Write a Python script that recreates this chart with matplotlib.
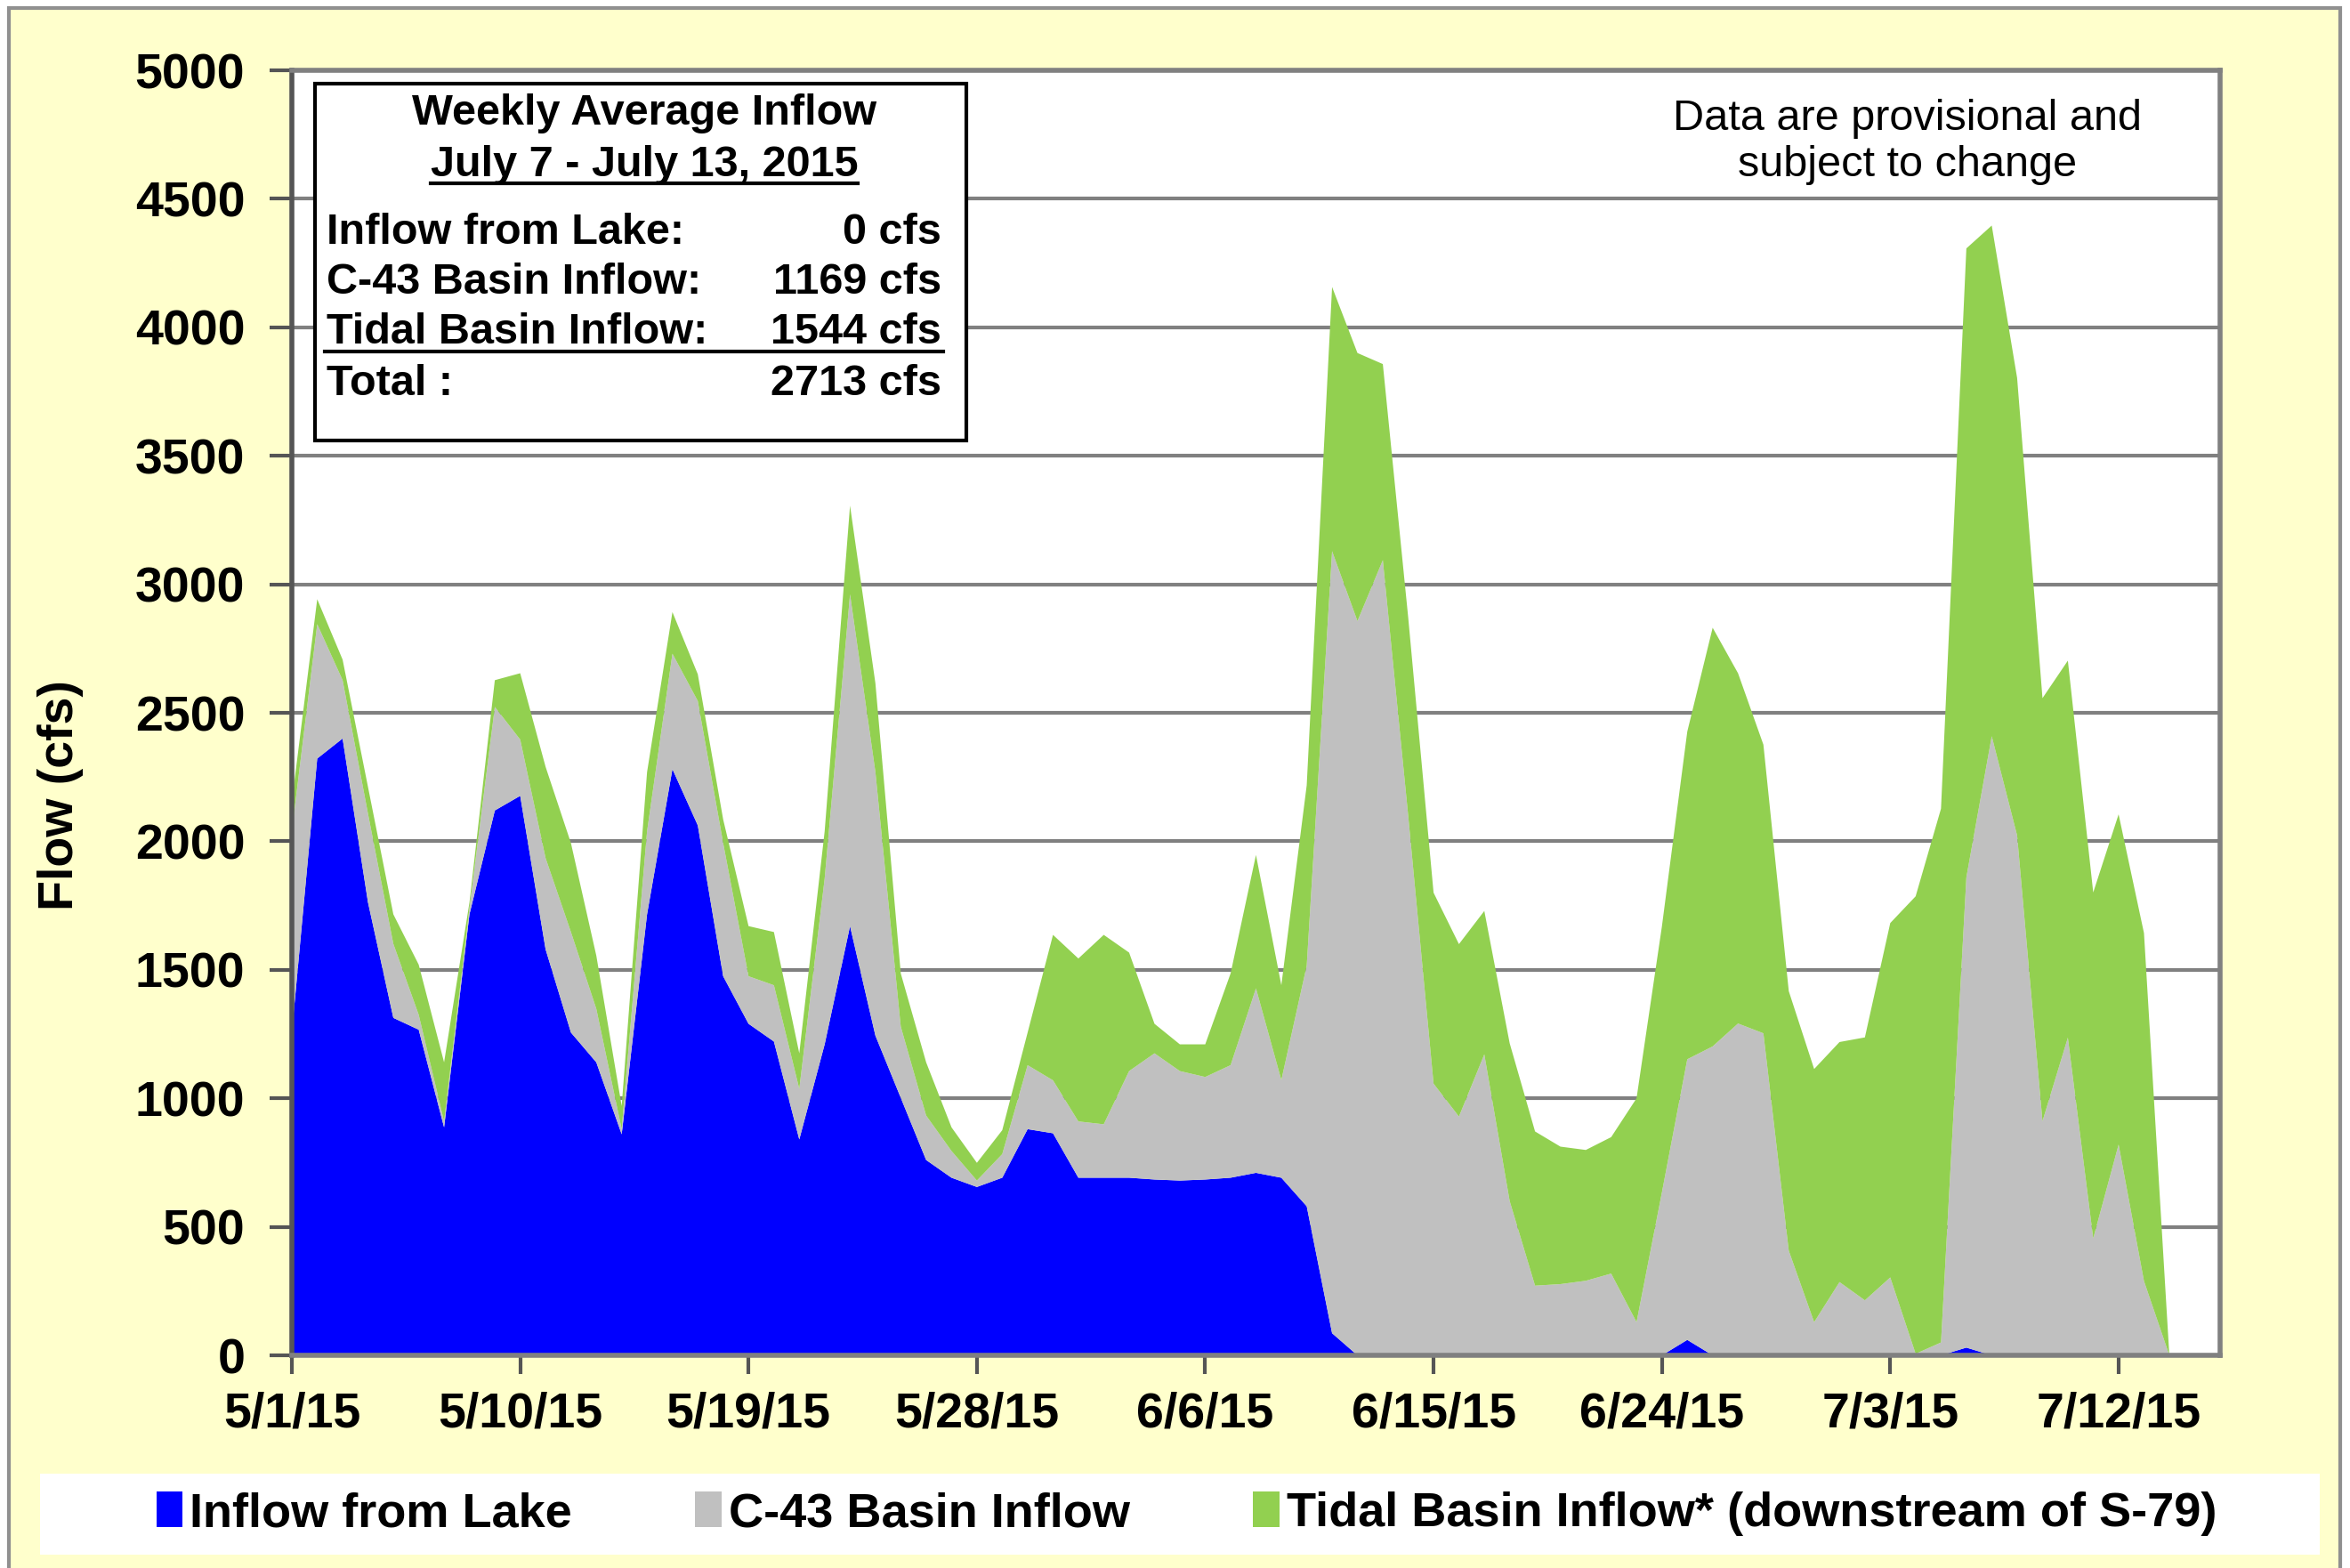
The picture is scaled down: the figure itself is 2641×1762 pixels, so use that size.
import matplotlib
matplotlib.use("Agg")
import matplotlib.pyplot as plt
import matplotlib.dates as mdates
from matplotlib.patches import Rectangle, Patch
from matplotlib.lines import Line2D
import pandas as pd

plt.rcParams['font.family'] = ['Liberation Sans', 'DejaVu Sans']

# ---- data (daily flow, cfs) ----
start_date = "2015-05-01"
lake = [1256, 2322, 2400, 1763, 1313, 1267, 887, 1716, 2120, 2177,
        1580, 1256, 1140, 860, 1716, 2281, 2062, 1475, 1290, 1221,
        840, 1210, 1670, 1244, 1002, 760, 691, 655, 691, 880,
        864, 691, 691, 691, 684, 680, 684, 691, 710, 691,
        580, 86, 0, 0, 0, 0, 0, 0, 0, 0,
        0, 0, 0, 0, 0, 60, 0, 0, 0, 0,
        0, 0, 0, 0, 0, 0, 30, 0, 0, 0,
        0, 0, 0, 0, 0, 0, 0]
c43 = [783, 523, 227, 345, 288, 58, 23, 24, 403, 219,
       355, 391, 208, 20, 323, 449, 484, 518, 185, 219,
       197, 645, 1291, 1026, 277, 173, 104, 25, 92, 249,
       206, 219, 208, 415, 491, 426, 399, 438, 718, 380,
       936, 3043, 2857, 3094, 2100, 1057, 929, 1171, 600, 271,
       277, 290, 318, 129, 634, 1092, 1202, 1291, 1253, 407,
       129, 285, 214, 303, 6, 50, 1830, 2409, 2023, 911,
       1236, 455, 820, 289, 0, 0, 0]
tidal = [115, 97, 80, 104, 115, 195, 230, 22, 104, 258,
         355, 346, 207, 90, 230, 162, 104, 92, 195, 207,
         138, 184, 345, 345, 207, 207, 92, 69, 93, 127,
         566, 634, 737, 461, 115, 104, 127, 357, 519, 369,
         702, 1028, 1043, 763, 771, 743, 671, 558, 614, 600,
         535, 509, 531, 871, 1035, 1275, 1629, 1363, 1123, 1010,
         985, 934, 1023, 1379, 1780, 2077, 2447, 1987, 1780, 1646,
         1467, 1346, 1285, 1354, 0, 0, 0]

series_names = ["Inflow from Lake", "C-43 Basin Inflow",
                "Tidal Basin Inflow* (downstream of S-79)"]
tick_dates = ["2015-05-01", "2015-05-10", "2015-05-19", "2015-05-28", "2015-06-06",
              "2015-06-15", "2015-06-24", "2015-07-03", "2015-07-12"]
tick_labels = ["5/1/15", "5/10/15", "5/19/15", "5/28/15", "6/6/15",
               "6/15/15", "6/24/15", "7/3/15", "7/12/15"]
y_ticks = list(range(0, 5001, 500))

box_title = "Weekly Average Inflow"
box_period = "July 7 - July 13, 2015"
box_rows = [("Inflow from Lake:", "0 cfs"),
            ("C-43 Basin Inflow:", "1169 cfs"),
            ("Tidal Basin Inflow:", "1544 cfs"),
            ("Total :", "2713 cfs")]
note_text = "Data are provisional and\nsubject to change"

colors = ["#0000FF", "#C0C0C0", "#92D050"]
grid_gray = "#808080"

dates = pd.date_range(start_date, periods=len(lake), freq="D")

W, H = 2641, 1762
fig = plt.figure(figsize=(W / 100, H / 100), dpi=100, facecolor="white")

# yellow chart area with gray frame
fig.patches.append(Rectangle((10 / W, -0.01), (2630 - 10) / W, 1 - 9 / H + 0.01,
                             transform=fig.transFigure, facecolor="#FFFFCC",
                             edgecolor="#909090", linewidth=3, zorder=-10))

L, R, T, B = 328, 2495, 79, 1523
ax = fig.add_axes([L / W, 1 - B / H, (R - L) / W, (B - T) / H])
ax.set_zorder(2)
ax.set_facecolor("white")

ax.stackplot(dates, lake, c43, tidal, colors=colors, linewidth=0, zorder=2)

ax.set_xlim(dates[0], dates[-1])
ax.set_ylim(0, 5000)
ax.set_yticks(y_ticks)
ax.set_yticklabels([str(v) for v in y_ticks])
ax.set_xticks(pd.to_datetime(tick_dates))
ax.set_xticklabels(tick_labels)
ax.yaxis.grid(True, color=grid_gray, linewidth=3, zorder=1)
ax.set_axisbelow(True)
for s in ax.spines.values():
    s.set_color(grid_gray)
    s.set_linewidth(4)
ax.spines["left"].set_color("#555555")
ax.tick_params(axis="both", colors="#555555", width=3, labelcolor="black",
               labelsize=40)
ax.tick_params(axis="y", length=18, pad=20)
ax.tick_params(axis="x", length=15, pad=14)
for lab in ax.get_xticklabels() + ax.get_yticklabels():
    lab.set_fontweight("bold")

ax.set_ylabel("Flow (cfs)", fontsize=40, fontweight="bold")
ax.yaxis.set_label_coords(-0.108, 0.436)


def axx(X):
    return (X - L) / (R - L)


def axy(Y):
    return (B - Y) / (B - T)


# info box
ax.add_patch(Rectangle((axx(354), axy(495)), axx(1086) - axx(354), axy(94) - axy(495),
                       transform=ax.transAxes, facecolor="white", edgecolor="black",
                       linewidth=3, zorder=5))
fs_box = 35
ax.text(axx(724), axy(128), box_title, transform=ax.transAxes, ha="center", va="center",
        fontsize=fs_box, fontweight="bold", zorder=6)
t_period = ax.text(axx(724), axy(186), box_period, transform=ax.transAxes, ha="center",
                   va="center", fontsize=fs_box, fontweight="bold", zorder=6)
row_y = [261, 317, 374, 431]
for (lbl, val), yy in zip(box_rows, row_y):
    ax.text(axx(367), axy(yy), lbl, transform=ax.transAxes, ha="left", va="center",
            fontsize=fs_box, fontweight="bold", zorder=6)
    ax.text(axx(1058), axy(yy), val, transform=ax.transAxes, ha="right", va="center",
            fontsize=fs_box, fontweight="bold", zorder=6)
# line above total
ax.add_line(Line2D([axx(365), axx(1060)], [axy(395), axy(395)], transform=ax.transAxes,
                   color="black", linewidth=3, zorder=6))

ax.text(axx(2144), axy(160), note_text, transform=ax.transAxes, ha="center", va="center",
        fontsize=35, linespacing=1.2, zorder=6)

# legend background
fig.patches.append(Rectangle((45 / W, 1 - 1747 / H), (2607 - 45) / W, (1747 - 1656) / H,
                             transform=fig.transFigure, facecolor="white",
                             edgecolor="none", zorder=-5))
handles = [Patch(facecolor=c, edgecolor="none") for c in colors]
leg = fig.legend(handles, series_names, loc="center", bbox_to_anchor=(0.505, 1 - 1701 / H),
                 ncol=3, frameon=False, handlelength=0.55, handleheight=0.75,
                 handletextpad=0.15, columnspacing=2.55,
                 prop={"family": "Liberation Sans", "weight": "bold", "size": 39})

# underline for period text
fig.canvas.draw()
r = fig.canvas.get_renderer()
bb = t_period.get_window_extent(r).transformed(ax.transAxes.inverted())
ax.add_line(Line2D([bb.x0, bb.x1], [bb.y0 + 0.002, bb.y0 + 0.002], transform=ax.transAxes,
                   color="black", linewidth=3, zorder=6))

fig.savefig("out.png", dpi=100, facecolor=fig.get_facecolor())
